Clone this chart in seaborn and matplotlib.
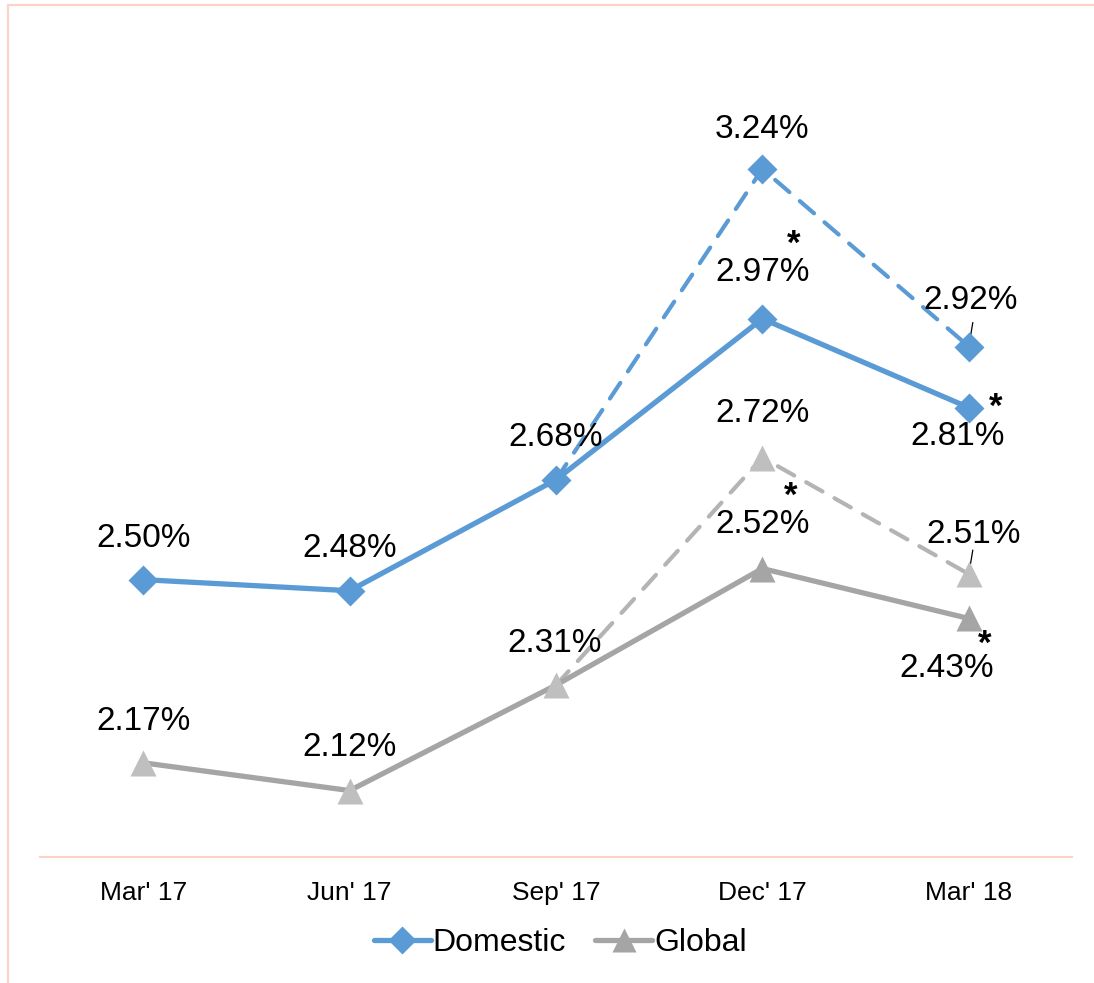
import numpy as np
import pandas as pd
import matplotlib
matplotlib.use('Agg')
import matplotlib.pyplot as plt
import seaborn as sns
from matplotlib.patches import Rectangle

sns.set_style('white')
plt.rcParams['font.family'] = ['Liberation Sans', 'DejaVu Sans']

# data
quarters = ["Mar' 17", "Jun' 17", "Sep' 17", "Dec' 17", "Mar' 18"]
domestic = [2.50, 2.48, 2.68, 2.97, 2.81]
global_ = [2.17, 2.12, 2.31, 2.52, 2.43]
dom_dash = [2.68, 3.24, 2.92]
glob_dash = [2.31, 2.72, 2.51]
dash_quarters = quarters[2:]

blue = '#5B9BD5'
grey = '#A5A5A5'
lgrey = '#BFBFBF'

pos = {q: i for i, q in enumerate(quarters)}
df = pd.DataFrame({'x': [pos[q] for q in quarters] * 2,
                   'val': domestic + global_,
                   'series': ['Domestic'] * 5 + ['Global'] * 5})
dfd = pd.DataFrame({'x': [pos[q] for q in dash_quarters] * 2,
                    'val': dom_dash + glob_dash,
                    'series': ['Domestic'] * 3 + ['Global'] * 3})

fig = plt.figure(figsize=(10.94, 9.83), dpi=100)
ax = fig.add_axes([40 / 1094, 0.128, 1032 / 1094, 0.847])

# dashed (restated) lines
for name, col in [('Domestic', blue), ('Global', '#B4B4B4')]:
    d = dfd[dfd.series == name]
    sns.lineplot(data=d, x='x', y='val', ax=ax, color=col, lw=3,
                 dashes=False, legend=False, zorder=2)
    ax.lines[-1].set_dashes([4.5, 3.3])
    ax.lines[-1].set_dash_capstyle('round')
ax.plot(3, dom_dash[1], 'D', ms=15, color=blue, mec='none', zorder=4)
ax.plot(4, dom_dash[2], 'D', ms=15, color=blue, mec='none', zorder=4)
ax.plot(3, glob_dash[1], '^', ms=19, color=lgrey, mec='none', zorder=4)
ax.plot(4, glob_dash[2], '^', ms=19, color=lgrey, mec='none', zorder=4)

# solid lines
d = df[df.series == 'Domestic']
sns.lineplot(data=d, x='x', y='val', ax=ax, color=blue, lw=3.8,
             marker='D', markersize=15, markeredgecolor='none', legend=False, zorder=3)
d = df[df.series == 'Global']
sns.lineplot(data=d, x='x', y='val', ax=ax, color=grey, lw=3.8, legend=False, zorder=3)
gcols = [lgrey, lgrey, lgrey, grey, grey]
for i, v in enumerate(global_):
    ax.plot(i, v, '^', ms=19, color=gcols[i], mec='none', zorder=4)

fs = 24
# labels: (x, y, text, dx_px, dy_px)
labels = [
    (0, 2.50, '2.50%', 0, 41), (1, 2.48, '2.48%', 0, 42), (2, 2.68, '2.68%', 0, 42),
    (3, 2.97, '2.97%', 0, 46), (4, 2.81, '2.81%', -11, -29),
    (3, 3.24, '3.24%', 0, 39), (4, 2.92, '2.92%', 2, 46),
    (0, 2.17, '2.17%', 0, 41), (1, 2.12, '2.12%', 0, 43), (2, 2.31, '2.31%', -1, 42),
    (3, 2.52, '2.52%', 0, 44), (4, 2.43, '2.43%', -22, -50),
    (3, 2.72, '2.72%', 0, 44), (4, 2.51, '2.51%', 5, 40),
]
for x, y, t, dx, dy in labels:
    ax.annotate(t, (x, y), xytext=(dx * 0.72, dy * 0.72), textcoords='offset points',
                ha='center', va='center', fontsize=fs, color='black', zorder=5)

stars = [(3, 2.97, 31, 74), (4, 2.81, 27, 0), (3, 2.52, 28, 72), (4, 2.43, 16, -26)]
for x, y, dx, dy in stars:
    ax.annotate('*', (x, y), xytext=(dx * 0.72, dy * 0.72), textcoords='offset points',
                ha='center', va='center', fontsize=25, fontweight='bold', color='black', zorder=5)

# small leader lines
for x, y in [(4, 2.92), (4, 2.51)]:
    ax.annotate('', (x, y), xytext=(4 * 0.72, 24 * 0.72), textcoords='offset points',
                arrowprops=dict(arrowstyle='-', color='black', lw=0.9, shrinkA=0, shrinkB=0))

ax.set_xlim(-0.5, 4.5)
ax.set_ylim(2.0, 3.5)
ax.set_xticks(range(5))
ax.set_xticklabels(quarters, fontsize=19, color='black')
ax.set_yticks([])
ax.set_xlabel('')
ax.set_ylabel('')
ax.tick_params(axis='x', length=0, pad=17)
for s in ['top', 'right', 'left']:
    ax.spines[s].set_visible(False)
ax.spines['bottom'].set_color('#FAD3C4')
ax.spines['bottom'].set_linewidth(1.5)

# legend
h1 = plt.Line2D([], [], color=blue, lw=3.8, marker='D', ms=14, mec='none', solid_capstyle='round')
h2 = plt.Line2D([], [], color=grey, lw=3.8, marker='^', ms=17, mec='none', solid_capstyle='round')
leg = fig.legend([h1, h2], ['Domestic', 'Global'], loc='center', bbox_to_anchor=(0.512, 0.041),
                 ncol=2, frameon=False, fontsize=23, handlelength=1.8, handletextpad=0.05,
                 columnspacing=0.9)
for t in leg.get_texts():
    t.set_color('black')

# outer frame
fig.patches.append(Rectangle((8 / 1094, -0.1), 1.2, 1 - 4.5 / 983 + 0.1, transform=fig.transFigure,
                             fill=False, edgecolor='#FBD3C8', lw=1.6))

fig.savefig('out.png', dpi=100)
